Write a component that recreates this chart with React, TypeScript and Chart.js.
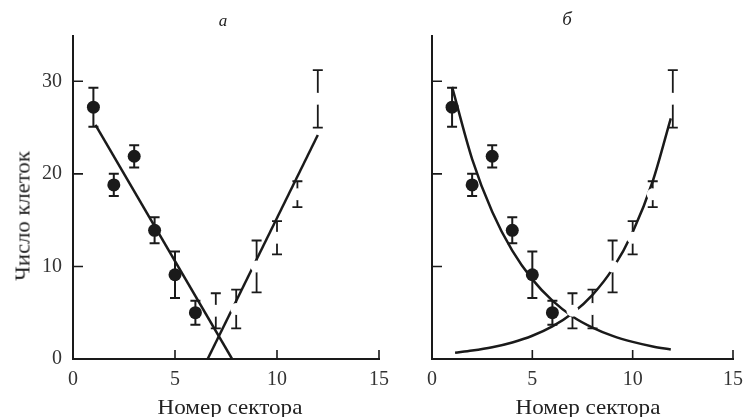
import React, { useEffect, useRef } from "react";
import { Chart, registerables } from "chart.js";

Chart.register(...registerables);

// ---- data ----
const filledSectors = [1, 2, 3, 4, 5, 6];
const filledMean = [27.2, 18.8, 21.9, 13.9, 9.1, 5.0];
const filledErr = [2.1, 1.2, 1.2, 1.4, 2.5, 1.3];

const openSectors = [7, 8, 9, 10, 11, 12];
const openMean = [5.2, 5.4, 10.0, 13.1, 17.8, 28.1];
const openErr = [1.9, 2.1, 2.8, 1.8, 1.4, 3.1];

// panel а: straight fits (end points)
const fitDownAX = [1.1, 7.8];
const fitDownAY = [25.3, 0];
const fitUpAX = [6.6, 12];
const fitUpAY = [0, 24.2];

// panel б: curved fits
const curveDownX = [1, 2, 3, 4, 5, 6, 7, 8, 9, 10, 11, 11.9];
const curveDownY = [29.4, 21.6, 15.9, 11.7, 8.6, 6.3, 4.6, 3.4, 2.5, 1.85, 1.36, 1.03];
const curveUpX = [1.15, 2, 3, 4, 5, 6, 7, 8, 9, 10, 11, 11.9];
const curveUpY = [0.68, 0.91, 1.27, 1.79, 2.51, 3.52, 4.94, 6.93, 9.73, 13.7, 19.2, 26.0];

const xTicks = [0, 5, 10, 15];
const yTicks = [0, 10, 20, 30];

const SERIF = "'Liberation Serif', 'Times New Roman', 'DejaVu Serif', serif";
const INK = "#1a1a1a";

const pts = (xs: number[], ys: number[]) => xs.map((x, i) => ({ x, y: ys[i] }));

const errorBarPlugin = {
  id: "errbars",
  beforeDatasetDraw(chart: any, args: any) {
    const ds = chart.data.datasets[args.index];
    if (!ds.errors) return;
    const ys = chart.scales.y;
    const ctx = chart.ctx;
    ctx.save();
    ctx.strokeStyle = INK;
    ctx.lineWidth = ds.errWidth || 2;
    args.meta.data.forEach((el: any, i: number) => {
      const v = ds.data[i].y;
      const e = ds.errors[i];
      const x = el.x;
      const yt = ys.getPixelForValue(v + e);
      const yb = ys.getPixelForValue(v - e);
      ctx.beginPath();
      ctx.moveTo(x, yt);
      ctx.lineTo(x, yb);
      ctx.moveTo(x - 5, yt);
      ctx.lineTo(x + 5, yt);
      ctx.moveTo(x - 5, yb);
      ctx.lineTo(x + 5, yb);
      ctx.stroke();
    });
    ctx.restore();
  },
};

const axesPlugin = {
  id: "axesDraw",
  beforeDatasetsDraw(chart: any) {
    const { ctx, chartArea, scales } = chart;
    const xs = scales.x;
    const ys = scales.y;
    ctx.save();
    ctx.strokeStyle = INK;
    ctx.lineWidth = 2;
    ctx.beginPath();
    ctx.moveTo(chartArea.left, chartArea.top);
    ctx.lineTo(chartArea.left, chartArea.bottom);
    ctx.lineTo(chartArea.right + 1, chartArea.bottom);
    ctx.stroke();
    ctx.lineWidth = 1.6;
    ctx.beginPath();
    xTicks.forEach((t) => {
      if (t === 0) return;
      const px = xs.getPixelForValue(t);
      ctx.moveTo(px, chartArea.bottom);
      ctx.lineTo(px, chartArea.bottom - 9);
    });
    yTicks.forEach((t) => {
      if (t === 0) return;
      const py = ys.getPixelForValue(t);
      ctx.moveTo(chartArea.left, py);
      ctx.lineTo(chartArea.left + 10, py);
    });
    ctx.stroke();
    ctx.restore();
  },
};

function makeConfig(panel: "a" | "b", yWidth: number, padRight: number): any {
  const lines =
    panel === "a"
      ? [pts(fitDownAX, fitDownAY), pts(fitUpAX, fitUpAY)]
      : [pts(curveDownX, curveDownY), pts(curveUpX, curveUpY)];
  return {
    type: "scatter",
    data: {
      datasets: [
        {
          label: "filled",
          data: pts(filledSectors, filledMean),
          errors: filledErr,
          errWidth: 2,
          pointRadius: 6.5,
          pointBackgroundColor: INK,
          pointBorderColor: INK,
          pointBorderWidth: 0,
          showLine: false,
        },
        {
          label: "open",
          data: pts(openSectors, openMean),
          errors: openErr,
          errWidth: 1.8,
          pointRadius: 6,
          pointBackgroundColor: "#ffffff",
          pointBorderColor: "#ffffff",
          pointBorderWidth: 0,
          showLine: false,
        },
        {
          label: "fit1",
          data: lines[0],
          showLine: true,
          pointRadius: 0,
          borderColor: INK,
          borderWidth: 2.5,
          tension: panel === "b" ? 0.4 : 0,
          cubicInterpolationMode: panel === "b" ? "monotone" : "default",
          fill: false,
        },
        {
          label: "fit2",
          data: lines[1],
          showLine: true,
          pointRadius: 0,
          borderColor: INK,
          borderWidth: 2.5,
          tension: panel === "b" ? 0.4 : 0,
          cubicInterpolationMode: panel === "b" ? "monotone" : "default",
          fill: false,
        },
      ],
    },
    options: {
      animation: false,
      responsive: false,
      maintainAspectRatio: false,
      events: [],
      layout: { padding: { left: 0, top: 35, right: padRight, bottom: 0 } },
      plugins: { legend: { display: false }, tooltip: { enabled: false }, title: { display: false } },
      scales: {
        x: {
          type: "linear",
          min: 0,
          max: 15,
          grid: { display: false, drawTicks: false },
          border: { display: false },
          ticks: {
            stepSize: 5,
            autoSkip: false,
            maxRotation: 0,
            padding: 9,
            color: "#333",
            font: { family: SERIF, size: 20 },
          },
          afterFit: (s: any) => {
            s.height = 58;
          },
        },
        y: {
          type: "linear",
          min: 0,
          max: 35,
          grid: { display: false, drawTicks: false },
          border: { display: false },
          ticks: {
            display: panel === "a",
            stepSize: 10,
            includeBounds: false,
            padding: 11,
            color: "#333",
            font: { family: SERIF, size: 20 },
            callback: (v: number) => (v % 10 === 0 ? String(v) : ""),
          },
          afterFit: (s: any) => {
            s.width = yWidth;
          },
        },
      },
    },
    plugins: [axesPlugin, errorBarPlugin],
  };
}

function Panel(props: { panel: "a" | "b"; left: number; width: number; yWidth: number; padRight: number }) {
  const ref = useRef<HTMLCanvasElement | null>(null);
  useEffect(() => {
    if (!ref.current) return;
    const chart = new Chart(ref.current, makeConfig(props.panel, props.yWidth, props.padRight));
    return () => chart.destroy();
  }, []);
  return (
    <canvas
      ref={ref}
      width={props.width}
      height={417}
      style={{ position: "absolute", left: props.left, top: 0, width: props.width, height: 417 }}
    />
  );
}

const textBase: React.CSSProperties = {
  position: "absolute",
  fontFamily: SERIF,
  color: "#222",
  whiteSpace: "nowrap",
  lineHeight: 1,
};

export default function App() {
  return (
    <div
      style={{
        position: "fixed",
        left: 0,
        top: 0,
        width: 752,
        height: 417,
        background: "#fff",
        overflow: "hidden",
      }}
    >
      <Panel panel="a" left={0} width={400} yWidth={73} padRight={21} />
      <Panel panel="b" left={380} width={372} yWidth={52} padRight={15} />
      <div style={{ ...textBase, left: 223, top: 20, fontSize: 17, fontStyle: "italic", transform: "translate(-50%, -50%)" }}>а</div>
      <div style={{ ...textBase, left: 567, top: 18, fontSize: 19, fontStyle: "italic", transform: "translate(-50%, -50%)" }}>б</div>
      <div
        style={{
          ...textBase,
          left: 23,
          top: 216,
          fontSize: 21,
          transform: "translate(-50%, -50%) rotate(-90deg) scaleX(1.08)",
        }}
      >
        Число клеток
      </div>
      <div style={{ ...textBase, left: 230, top: 407, fontSize: 21, transform: "translate(-50%, -50%) scaleX(1.1)" }}>
        Номер сектора
      </div>
      <div style={{ ...textBase, left: 588, top: 407, fontSize: 21, transform: "translate(-50%, -50%) scaleX(1.1)" }}>
        Номер сектора
      </div>
    </div>
  );
}
